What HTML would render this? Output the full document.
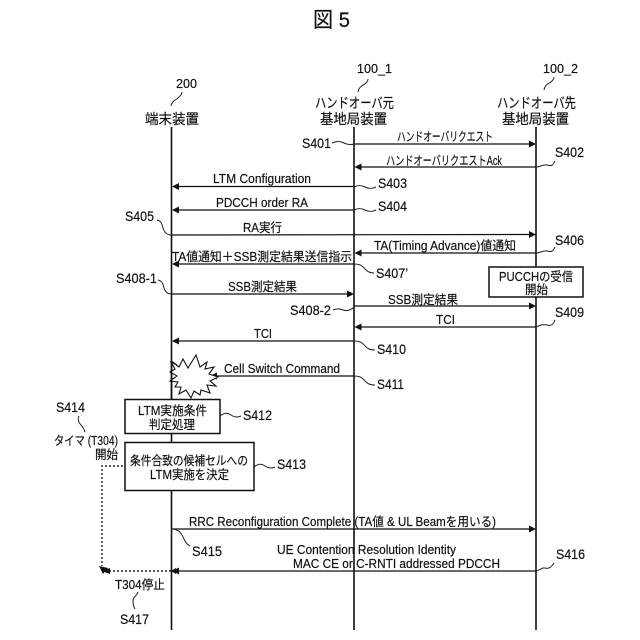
<!DOCTYPE html>
<html><head><meta charset="utf-8"><style>
html,body{margin:0;padding:0;background:#fff}
svg{display:block}
text{font-family:"Liberation Sans","Noto Sans CJK JP",sans-serif;font-size:12.5px;fill:#111;stroke:#111;stroke-width:.18}
.l{stroke:#111;stroke-width:1.2;fill:none}
.ll{stroke:#111;stroke-width:1.6;fill:none}
.c{stroke:#222;stroke-width:1;fill:none}
.d{stroke:#222;stroke-width:1.4;stroke-dasharray:2 2;fill:none}
.b{stroke:#111;stroke-width:1.5;fill:#fff}
.a{fill:#111}
.s{font-size:14px}
.h{font-size:14px}
</style></head><body>
<svg width="640" height="640" viewBox="0 0 640 640" xmlns="http://www.w3.org/2000/svg">
<text x="313" y="27" style="font-size:21px" textLength="37" lengthAdjust="spacingAndGlyphs">図 5</text>

<line class="ll" x1="171.500" y1="127" x2="171.500" y2="630"/>
<line class="ll" x1="354" y1="127" x2="354" y2="630"/>
<line class="ll" x1="536" y1="127" x2="536" y2="630"/>

<text x="176" y="88" textLength="21" lengthAdjust="spacingAndGlyphs">200</text>
<path class="c" d="M171 106c1-6 6-6 9-10 2-2 2-3 2-4"/>
<text class="h" x="145" y="124" textLength="54" lengthAdjust="spacingAndGlyphs">端末装置</text>
<text x="357" y="73" textLength="35" lengthAdjust="spacingAndGlyphs">100_1</text>
<path class="c" d="M358 92c1-6 5-6 8-9 2-2 2-3 2-4"/>
<text class="h" x="315" y="108" textLength="79" lengthAdjust="spacingAndGlyphs">ハンドオーバ元</text>
<text class="h" x="320" y="124" textLength="67" lengthAdjust="spacingAndGlyphs">基地局装置</text>
<text x="543" y="73" textLength="35" lengthAdjust="spacingAndGlyphs">100_2</text>
<path class="c" d="M544 90c1-6 5-6 8-9 2-2 2-3 2-4"/>
<text class="h" x="497" y="108" textLength="79" lengthAdjust="spacingAndGlyphs">ハンドオーバ先</text>
<text class="h" x="502" y="124" textLength="67" lengthAdjust="spacingAndGlyphs">基地局装置</text>

<!-- arrows -->
<line class="l" x1="354" y1="144" x2="530" y2="144"/><path class="a" d="M536 144l-7-3.500v7z"/>
<line class="l" x1="536" y1="167" x2="360" y2="167"/><path class="a" d="M354.500 167l7-3.500v7z"/>
<line class="l" x1="354" y1="186.500" x2="178" y2="186.500"/><path class="a" d="M172 186.500l7-3.500v7z"/>
<line class="l" x1="354" y1="210" x2="178" y2="210"/><path class="a" d="M172 210l7-3.500v7z"/>
<line class="l" x1="171" y1="235" x2="530" y2="234.500"/><path class="a" d="M536 234.500l-7-3.500v7z"/>
<line class="l" x1="536" y1="253" x2="360" y2="253"/><path class="a" d="M354.500 253l7-3.500v7z"/>
<line class="l" x1="354" y1="264" x2="178" y2="264"/><path class="a" d="M172 264l7-3.500v7z"/>
<line class="l" x1="171" y1="294" x2="348" y2="294"/><path class="a" d="M354 294l-7-3.500v7z"/>
<line class="l" x1="354" y1="306" x2="530" y2="306"/><path class="a" d="M536 306l-7-3.500v7z"/>
<line class="l" x1="536" y1="327" x2="360" y2="327"/><path class="a" d="M354.500 327l7-3.500v7z"/>
<line class="l" x1="354" y1="341" x2="178" y2="341"/><path class="a" d="M172 341l7-3.500v7z"/>
<line class="l" x1="354" y1="376" x2="216" y2="376"/><path class="a" d="M210 376l7-3.500v7z"/>
<line class="l" x1="171" y1="529" x2="530" y2="529"/><path class="a" d="M536 529l-7-3.500v7z"/>
<line class="l" x1="536" y1="571" x2="178" y2="571"/><path class="a" d="M172 571l7-3.500v7z"/>

<!-- arrow labels -->
<text x="397" y="141" textLength="96" lengthAdjust="spacingAndGlyphs">ハンドオーバリクエスト</text>
<text x="386" y="165" textLength="116" lengthAdjust="spacingAndGlyphs">ハンドオーバリクエストAck</text>
<text x="213" y="183" textLength="98" lengthAdjust="spacingAndGlyphs">LTM Configuration</text>
<text x="216" y="207" textLength="92" lengthAdjust="spacingAndGlyphs">PDCCH order RA</text>
<text x="243" y="232" textLength="39" lengthAdjust="spacingAndGlyphs">RA実行</text>
<text x="374" y="250" textLength="142" lengthAdjust="spacingAndGlyphs">TA(Timing Advance)値通知</text>
<text x="172" y="261" textLength="180" lengthAdjust="spacingAndGlyphs">TA値通知＋SSB測定結果送信指示</text>
<text x="228" y="291" textLength="69" lengthAdjust="spacingAndGlyphs">SSB測定結果</text>
<text x="388" y="304" textLength="70" lengthAdjust="spacingAndGlyphs">SSB測定結果</text>
<text x="436" y="324" textLength="19" lengthAdjust="spacingAndGlyphs">TCI</text>
<text x="254" y="338" textLength="18" lengthAdjust="spacingAndGlyphs">TCI</text>
<text x="224" y="373" textLength="116" lengthAdjust="spacingAndGlyphs">Cell Switch Command</text>
<text x="189" y="526" textLength="307" lengthAdjust="spacingAndGlyphs">RRC Reconfiguration Complete (TA値 &amp; UL Beamを用いる)</text>
<text x="277" y="554" textLength="179" lengthAdjust="spacingAndGlyphs">UE Contention Resolution Identity</text>
<text x="293" y="568" textLength="207" lengthAdjust="spacingAndGlyphs">MAC CE or C-RNTI addressed PDCCH</text>

<!-- step labels & squiggles -->
<text class="s" x="302" y="148" textLength="29" lengthAdjust="spacingAndGlyphs">S401</text>
<path class="c" d="M332 143c5-2 8-2 12 0s7 2 10 1"/>
<text class="s" x="555" y="157" textLength="29" lengthAdjust="spacingAndGlyphs">S402</text>
<path class="c" d="M536 167c5 0 7-3 11-2s6 1 8-4"/>
<text class="s" x="378" y="188" textLength="29" lengthAdjust="spacingAndGlyphs">S403</text>
<path class="c" d="M354 187c4-2 7-2 11 0s7 2 11 0"/>
<text class="s" x="378" y="211" textLength="29" lengthAdjust="spacingAndGlyphs">S404</text>
<path class="c" d="M354 210c4-2 7-2 11 0s7 2 11 0"/>
<text class="s" x="125" y="221" textLength="29" lengthAdjust="spacingAndGlyphs">S405</text>
<path class="c" d="M157 220c5 1 5 5 6 8s3 7 8 7"/>
<text class="s" x="555" y="245" textLength="29" lengthAdjust="spacingAndGlyphs">S406</text>
<path class="c" d="M536 253c5 0 7-3 11-2s6 1 8-4"/>
<text class="s" x="376" y="278" textLength="32" lengthAdjust="spacingAndGlyphs">S407’</text>
<path class="c" d="M354 264c8 0 9 3 11 5s4 4 9 4"/>
<text class="s" x="116" y="283" textLength="41" lengthAdjust="spacingAndGlyphs">S408-1</text>
<path class="c" d="M158 280c5 1 5 5 6 8s3 6 7 6"/>
<text class="s" x="290" y="315" textLength="41" lengthAdjust="spacingAndGlyphs">S408-2</text>
<path class="c" d="M333 310c5-2 7-1 10 0s7 1 11-3"/>
<text class="s" x="555" y="317" textLength="29" lengthAdjust="spacingAndGlyphs">S409</text>
<path class="c" d="M536 327c5-2 7-3 11-2s6 0 8-5"/>
<text class="s" x="377" y="354" textLength="29" lengthAdjust="spacingAndGlyphs">S410</text>
<path class="c" d="M354 341c8 0 9 3 11 5s4 4 10 4"/>
<text class="s" x="377" y="389" textLength="27" lengthAdjust="spacingAndGlyphs">S411</text>
<path class="c" d="M354 376c8 0 9 3 11 5s4 4 10 4"/>
<text class="s" x="243" y="420" textLength="29" lengthAdjust="spacingAndGlyphs">S412</text>
<path class="c" d="M220 416c5-4 8-3 11-1s6 3 10 1"/>
<text class="s" x="277" y="469" textLength="29" lengthAdjust="spacingAndGlyphs">S413</text>
<path class="c" d="M254 467c5-4 8-3 11-1s6 3 10 1"/>
<text class="s" x="56" y="412" textLength="29" lengthAdjust="spacingAndGlyphs">S414</text>
<path class="c" d="M79 416c-2 4 0 7 2 9s3 4 4 7"/>
<text class="s" x="192" y="556" textLength="30" lengthAdjust="spacingAndGlyphs">S415</text>
<path class="c" d="M171 529c8 0 10 4 12 8s3 7 7 9"/>
<text class="s" x="556" y="559" textLength="29" lengthAdjust="spacingAndGlyphs">S416</text>
<path class="c" d="M536 571c5-1 6-4 9-3s6 0 9-5"/>
<text class="s" x="120" y="624" textLength="29" lengthAdjust="spacingAndGlyphs">S417</text>
<path class="c" d="M138 592c-1 4-5 5-5 8s0 6 2 9"/>

<text x="54" y="445" textLength="64" lengthAdjust="spacingAndGlyphs">タイマ (T304)</text>
<text x="95" y="459" textLength="23" lengthAdjust="spacingAndGlyphs">開始</text>
<text x="115" y="589" textLength="50" lengthAdjust="spacingAndGlyphs">T304停止</text>

<!-- PUCCH box -->
<rect class="b" x="489" y="267" width="94" height="30"/>
<text x="499" y="281" textLength="74" lengthAdjust="spacingAndGlyphs">PUCCHの受信</text>
<text x="525" y="294" textLength="23" lengthAdjust="spacingAndGlyphs">開始</text>

<!-- starburst -->
<path fill="#fff" stroke="#111" stroke-width="1.100" d="M171 361l8 6 4-8 5 9 8-13 4 12 7-5-2 7 9-2-5 7 9 3-8 4 6 5-9-1 3 8-9-3-1 5-6-4-3 7-5-8-7 4 2-7-6 0 3-5-8-1 7-5-7-4 5-3-4-7 6 3z"/>
<line class="ll" x1="171.500" y1="363" x2="171.500" y2="399"/>

<!-- process boxes -->
<rect class="b" x="125" y="399.500" width="95" height="34"/>
<text x="138" y="415" textLength="69" lengthAdjust="spacingAndGlyphs">LTM実施条件</text>
<text x="149" y="429" textLength="46" lengthAdjust="spacingAndGlyphs">判定処理</text>
<rect class="b" x="125" y="442.500" width="129" height="48"/>
<text x="130" y="465" textLength="118" lengthAdjust="spacingAndGlyphs">条件合致の候補セルへの</text>
<text x="150" y="479" textLength="79" lengthAdjust="spacingAndGlyphs">LTM実施を決定</text>

<!-- dotted -->
<path class="d" d="M123 466H102V566"/>
<path class="a" d="M99 566l9 2-5 6z"/>
<path class="d" d="M171 571H110"/>
<path class="a" d="M102 571l8-3v6z"/>
<path class="a" d="M171 571l5-3v6z"/>
</svg>
</body></html>
